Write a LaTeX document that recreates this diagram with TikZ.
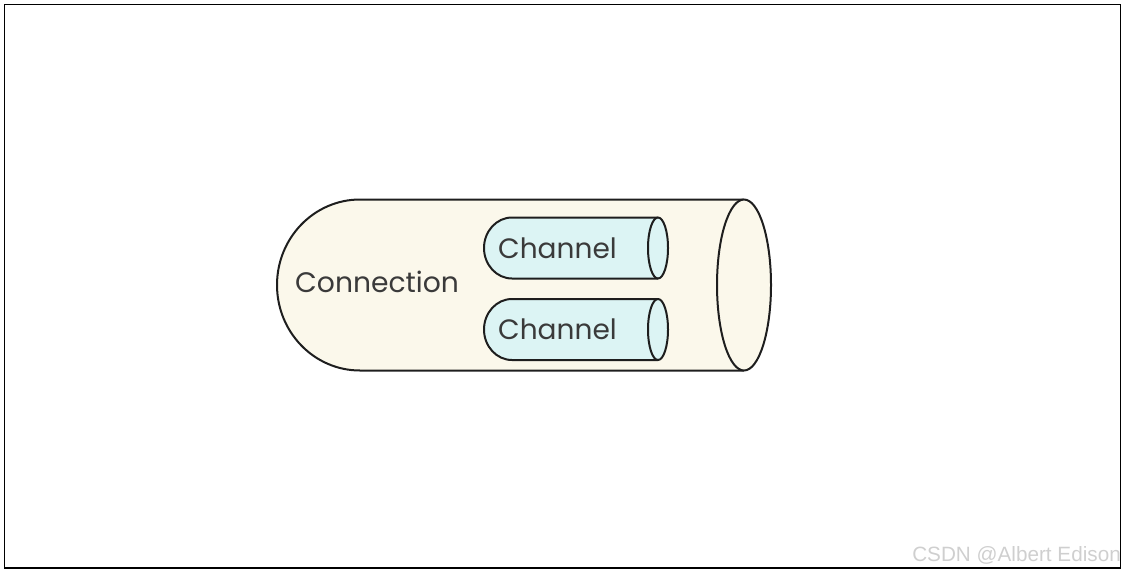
\documentclass[tikz,border=0pt]{standalone}
\usepackage{fontspec}
\setmainfont{Poppins}
\newfontfamily\wmfont{Liberation Sans}
\definecolor{conFill}{HTML}{FBF8EB}
\definecolor{chFill}{HTML}{DCF4F4}
\definecolor{inkc}{HTML}{1E1E1E}
\definecolor{txtc}{HTML}{3A3A3A}
\definecolor{wmc}{HTML}{CFCFCF}
\tikzset{
  outline/.style={draw=inkc, line width=2pt, line join=round},
  lbl/.style={inner sep=0pt, anchor=base west, text=txtc},
}
\begin{document}
\begin{tikzpicture}[x=1pt,y=-1pt]
\useasboundingbox (0,0) rectangle (1126,573);
\draw[black, line width=1.2pt] (4.5,4.5) rectangle (1120.5,568);
% connection body
\path[outline, fill=conFill] (744,199.5) -- (360,199.5)
  arc[start angle=90, end angle=270, x radius=83, y radius=-85.5] -- (744,370.5);
\path[outline, fill=conFill] (744,285) ellipse[x radius=27, y radius=85.5];
% channel 1
\path[outline, fill=chFill] (658,217.5) -- (512,217.5)
  arc[start angle=90, end angle=270, x radius=28, y radius=-30.5] -- (658,278.5);
\path[outline, fill=chFill] (658,248) ellipse[x radius=10, y radius=30.5];
% channel 2
\path[outline, fill=chFill] (658,299) -- (512,299)
  arc[start angle=90, end angle=270, x radius=28, y radius=-30.5] -- (658,360);
\path[outline, fill=chFill] (658,329.5) ellipse[x radius=10, y radius=30.5];
% texts
\node[lbl, font=\fontsize{28.2}{28.2}\selectfont] (con) at (295,292) {Connection};
\node[lbl, font=\fontsize{28}{28}\selectfont] (ch1) at (498,258) {Channel};
\node[lbl, font=\fontsize{28}{28}\selectfont] (ch2) at (498,339.5) {Channel};
\node[inner sep=0pt, anchor=base east, text=wmc, font=\wmfont\fontsize{20.7}{20.7}\selectfont] (wm) at (1121,561) {CSDN @Albert Edison};
\end{tikzpicture}
\end{document}
